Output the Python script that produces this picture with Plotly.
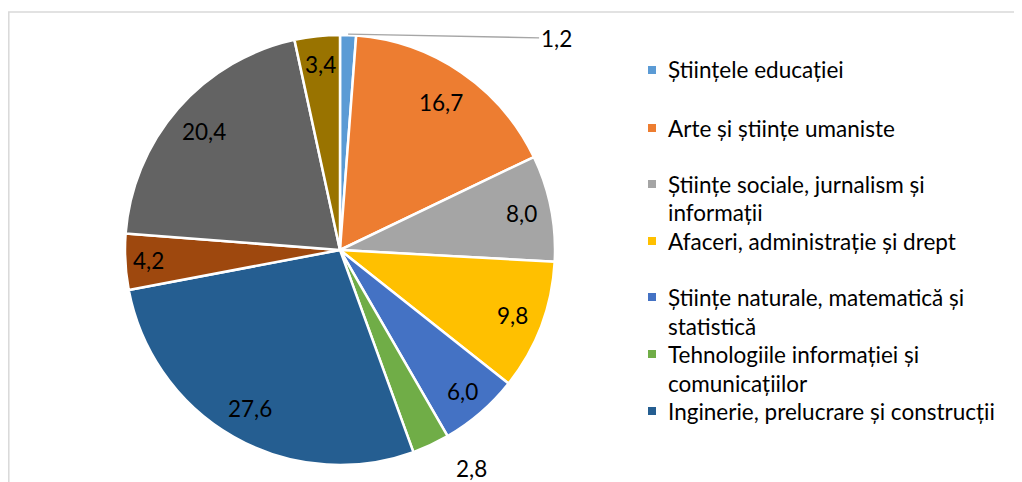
import math
import plotly.graph_objects as go

# ---------------------------------------------------------------------------
# Data
# ---------------------------------------------------------------------------
categories = [
    "Științele educației",
    "Arte și științe umaniste",
    "Științe sociale, jurnalism și\ninformații",
    "Afaceri, administrație și drept",
    "Științe naturale, matematică și\nstatistică",
    "Tehnologiile informației și\ncomunicațiilor",
    "Inginerie, prelucrare și construcții",
    "Agricultură, silvicultură, piscicultură și științe veterinare",
    "Sănătate și asistență socială",
    "Servicii",
]
values = [1.2, 16.7, 8.0, 9.8, 6.0, 2.8, 27.6, 4.2, 20.4, 3.4]
colors = ["#5B9BD5", "#ED7D31", "#A5A5A5", "#FFC000", "#4472C4",
          "#70AD47", "#255E91", "#9E480E", "#636363", "#997300"]
legend_count = 7   # only the first seven fit in the visible legend

# ---------------------------------------------------------------------------
# Layout constants (page pixels; the page body adds an 8px margin)
# ---------------------------------------------------------------------------
PAGE_W, PAGE_H = 1022, 482
OFF = 8
W, H = PAGE_W - OFF, PAGE_H - OFF
FONT = "Lato"
FS = 22.5
PIE_CX, PIE_CY, PIE_R = 340, 250, 215
# radial position of each data label as a fraction of the radius
# (None -> leader-line label drawn separately)
label_r = [None, 0.83, 0.86, 0.86, 0.87, 1.12, 0.85, 0.89, 0.84, 0.87]
label_xshift = [0, 0, 0, 0, 0, 30, 0, 0, 0, 0]


def px_x(x):
    return (x - OFF) / W


def px_y(y):
    return 1 - (y - OFF) / H


text_labels = [f"{v:.1f}".replace(".", ",") for v in values]

fig = go.Figure(go.Pie(
    labels=[c.replace("\n", " ") for c in categories],
    values=values,
    sort=False,
    direction="clockwise",
    rotation=0,
    marker=dict(colors=colors, line=dict(color="white", width=2.5)),
    text=text_labels,
    textinfo="none",
    showlegend=False,
    domain=dict(x=[px_x(PIE_CX - PIE_R), px_x(PIE_CX + PIE_R)],
                y=[px_y(PIE_CY + PIE_R), px_y(PIE_CY - PIE_R)]),
    hovertemplate="%{label}: %{text}<extra></extra>",
))

# Data labels placed along each slice's bisector
total = sum(values)
annotations = []
cum = 0.0
for i, v in enumerate(values):
    ang = (cum + v / 2) / total * 2 * math.pi
    cum += v
    if label_r[i] is None:
        # leader-line label for the tiny first slice
        ex = PIE_CX + PIE_R * math.sin(ang)
        ey = PIE_CY - PIE_R * math.cos(ang) - 1
        annotations.append(dict(
            x=px_x(ex), y=px_y(ey), xref="paper", yref="paper",
            text=text_labels[i], showarrow=True, arrowhead=0, arrowwidth=1.3,
            arrowcolor="#A6A6A6", ax=208, ay=4, standoff=0,
            font=dict(family=FONT, size=FS, color="black"),
        ))
        continue
    r = PIE_R * label_r[i]
    annotations.append(dict(
        x=px_x(PIE_CX + r * math.sin(ang)), y=px_y(PIE_CY - r * math.cos(ang)),
        xref="paper", yref="paper", text=text_labels[i], showarrow=False,
        xanchor="center", yanchor="middle", xshift=label_xshift[i],
        font=dict(family=FONT, size=FS, color="black"),
    ))

# Hand-drawn legend (Excel style: fixed row pitch, wrapped text)
shapes = []
row_tops = [70, 128, 184, 241, 297, 354, 411]
line_gap = 29
for i in range(legend_count):
    y0 = row_tops[i]
    shapes.append(dict(type="rect", xref="paper", yref="paper",
                       x0=px_x(648), x1=px_x(656),
                       y0=px_y(y0 + 4), y1=px_y(y0 - 4),
                       fillcolor=colors[i], line=dict(width=0)))
    for j, line in enumerate(categories[i].split("\n")):
        annotations.append(dict(
            x=px_x(666), y=px_y(y0 + j * line_gap), xref="paper", yref="paper",
            xanchor="left", yanchor="middle", text=line, showarrow=False,
            font=dict(family=FONT, size=FS, color="black"),
        ))

# Chart area border
shapes.append(dict(type="rect", xref="paper", yref="paper",
                   x0=px_x(8.8), x1=1.05, y0=-0.05, y1=px_y(12),
                   line=dict(color="#D9D9D9", width=1.5)))

fig.update_layout(
    width=W, height=H,
    margin=dict(l=0, r=0, t=0, b=0),
    paper_bgcolor="white",
    plot_bgcolor="white",
    annotations=annotations,
    shapes=shapes,
    font=dict(family=FONT, size=FS, color="black"),
)

fig.write_html("out.html")
